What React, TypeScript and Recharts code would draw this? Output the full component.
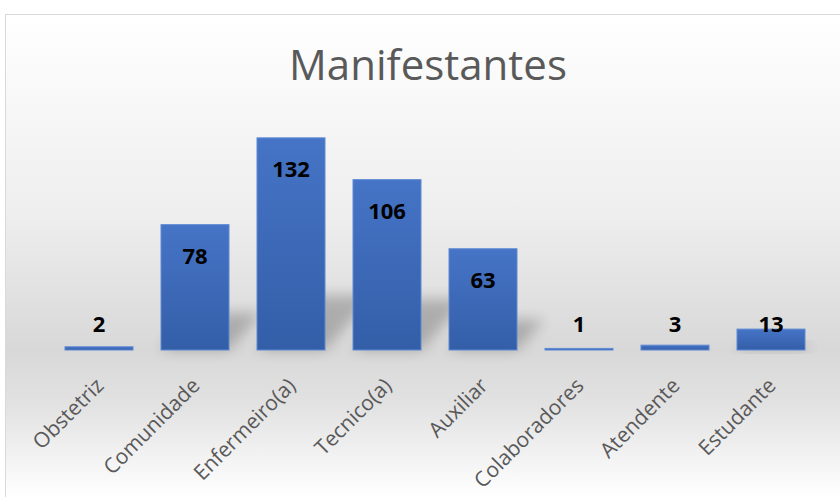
import React from 'react';
import { BarChart, Bar, XAxis, YAxis, LabelList } from 'recharts';

const categories = ['Obstetriz', 'Comunidade', 'Enfermeiro(a)', 'Tecnico(a)', 'Auxiliar', 'Colaboradores', 'Atendente', 'Estudante'];
const manifestantes = [2, 78, 132, 106, 63, 1, 3, 13];

const data = categories.map((name, i) => ({ name, value: manifestantes[i] }));

const FONT = '"Open Sans", sans-serif';

const renderLabel = (props: any) => {
  const { x, y, width, height, value } = props;
  const cy = Math.min(y + 30, y + height - 27);
  return (
    <text x={x + width / 2} y={cy} textAnchor="middle" dominantBaseline="central"
      fontFamily={FONT} fontWeight="bold" fontSize={22} fill="#000">
      {value}
    </text>
  );
};

const renderTick = (props: any) => {
  const { x, y, payload } = props;
  const px = x + 6;
  const py = y + 29;
  return (
    <text x={px} y={py} textAnchor="end" transform={`rotate(-45, ${px}, ${py})`}
      fontFamily={FONT} fontSize={21} fill="#595959">
      {payload.value}
    </text>
  );
};

// bar with a soft floor shadow behind it
const renderBar = (props: any) => {
  const { x, y, width, height } = props;
  const base = y + height;
  const s = Math.min(height * 0.3, 55);
  const d = s * 0.9;
  return (
    <g>
      <polygon
        points={`${x},${base} ${x + width},${base} ${x + width + d},${base - s} ${x + d},${base - s}`}
        fill="#000" opacity={0.22} filter="url(#shadowBlur)" />
      <rect x={x} y={y} width={width} height={height} fill="url(#barFill)" stroke="#5e8ad4" strokeWidth={1} />
    </g>
  );
};

export default function App() {
  return (
    <div style={{
      position: 'fixed', left: 5, top: 14, width: 850, height: 490,
      border: '1px solid #d9d9d9',
      background: 'linear-gradient(to bottom, #ffffff 0px, #eeeeee 200px, #d8d8d8 335px, #e2e2e2 390px, #ffffff 482px)',
    }}>
      <div style={{
        position: 'absolute', left: 0, top: 28, width: 844, textAlign: 'center',
        fontFamily: FONT, fontSize: 42, lineHeight: 1, color: '#595959',
      }}>
        Manifestantes
      </div>
      <BarChart width={840} height={482} data={data}
        margin={{ top: 110, right: 27, bottom: 0, left: 45 }}>
        <defs>
          <linearGradient id="barFill" x1="0" y1="0" x2="0" y2="1">
            <stop offset="0%" stopColor="#4674c6" />
            <stop offset="100%" stopColor="#335ea8" />
          </linearGradient>
          <filter id="shadowBlur" x="-50%" y="-50%" width="200%" height="200%">
            <feGaussianBlur stdDeviation="7" />
          </filter>
        </defs>
        <YAxis hide domain={[0, 140]} />
        <XAxis dataKey="name" interval={0} axisLine={false} tickLine={false}
          height={147} tick={renderTick} />
        <Bar dataKey="value" barSize={68} fill="url(#barFill)" shape={renderBar}
          isAnimationActive={false}>
          <LabelList dataKey="value" content={renderLabel} />
        </Bar>
      </BarChart>
    </div>
  );
}
